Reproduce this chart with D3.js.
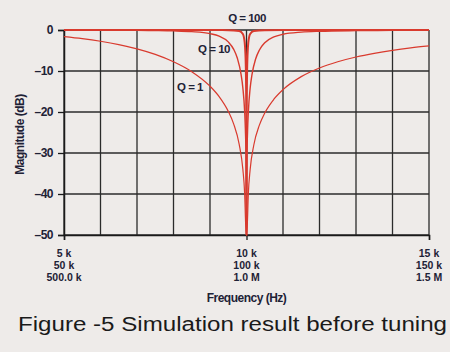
<!DOCTYPE html>
<html>
<head>
<meta charset="utf-8">
<script src="https://cdn.jsdelivr.net/npm/d3@7"></script>
<style>
  html, body { margin: 0; padding: 0; background: #eeebe9; }
  svg { display: block; }
  .lbl { font-family: "Liberation Sans", Arial, sans-serif; font-weight: bold; fill: #1e2236; }
</style>
</head>
<body>
<div id="chart"></div>
<script>
// frequency in kHz (first row of x labels), magnitude in dB
const xTickValues = [5, 10, 15];
const xTickLines = [
  ["5 k", "50 k", "500.0 k"],
  ["10 k", "100 k", "1.0 M"],
  ["15 k", "150 k", "1.5 M"]
];
const yTickValues = [0, -10, -20, -30, -40, -50];

const q1Freq = [5, 5.5, 6, 6.5, 7, 7.5, 8, 8.5, 9, 9.25, 9.5, 9.65, 9.8, 9.9, 9.95, 9.98, 10,
  10.02, 10.05, 10.1, 10.2, 10.35, 10.5, 10.75, 11, 11.5, 12, 12.5, 13, 13.5, 14, 14.5, 15];
const q1Db = [-1.6, -2.1, -2.74, -3.55, -4.6, -5.95, -7.74, -10.16, -13.7, -16.24, -19.82, -22.96, -27.88, -33.94, -39.98, -47.95, -50,
  -47.97, -40.02, -34.02, -28.05, -23.27, -20.25, -16.88, -14.54, -11.37, -9.26, -7.74, -6.58, -5.68, -4.95, -4.36, -3.88];

const q10Freq = [5, 6, 7, 7.5, 8, 8.5, 9, 9.25, 9.5, 9.65, 9.75, 9.85, 9.9, 9.95, 9.97, 9.985, 10,
  10.015, 10.03, 10.05, 10.1, 10.15, 10.25, 10.35, 10.5, 10.75, 11, 11.5, 12, 13, 14, 15];
const q10Db = [-0.02, -0.04, -0.08, -0.13, -0.21, -0.39, -0.88, -1.49, -2.9, -4.72, -6.9, -10.78, -14.1, -20, -24.44, -30.45, -50,
  -30.47, -24.46, -20.06, -14.19, -10.89, -7.08, -4.93, -3.12, -1.7, -1.05, -0.52, -0.31, -0.15, -0.09, -0.06];

const q100Freq = [5, 7, 9, 9.5, 9.8, 9.9, 9.95, 9.97, 9.985, 9.995, 9.9985, 10,
  10.0015, 10.005, 10.015, 10.03, 10.05, 10.1, 10.2, 10.5, 11, 13, 15];
const q100Db = [0, 0, -0.01, -0.04, -0.26, -0.96, -3, -5.76, -10.83, -20.04, -30.46, -50,
  -30.46, -20.04, -10.84, -5.78, -3.02, -0.98, -0.26, -0.05, -0.01, 0, 0];

const seriesNames = ["Q = 1", "Q = 10", "Q = 100"];

const W = 450, H = 352;
const margin = {top: 30, right: 21, bottom: 117, left: 64};
const width = W - margin.left - margin.right;
const height = H - margin.top - margin.bottom;

const svg = d3.select("#chart").append("svg")
    .attr("width", W)
    .attr("height", H);
const g = svg.append("g")
    .attr("transform", "translate(" + margin.left + "," + margin.top + ")");

const x = d3.scaleLinear().domain([5, 15]).range([0, width]);
const y = d3.scaleLinear().domain([-50, 0]).range([height, 0]);

// grid
g.append("g").selectAll("line")
    .data(d3.range(5, 16, 1))
  .enter().append("line")
    .attr("x1", d => x(d)).attr("x2", d => x(d))
    .attr("y1", 0).attr("y2", height)
    .attr("stroke", "#2b2b2b").attr("stroke-width", 1.3);
g.append("g").selectAll("line")
    .data(yTickValues)
  .enter().append("line")
    .attr("x1", 0).attr("x2", width)
    .attr("y1", d => y(d)).attr("y2", d => y(d))
    .attr("stroke", "#2b2b2b").attr("stroke-width", 1.3);

// y axis
const yAxis = d3.axisLeft(y).tickValues(yTickValues).tickSize(6).tickPadding(5)
    .tickFormat(d => d === 0 ? "0" : "\u2013" + Math.abs(d));
const yg = g.append("g").call(yAxis);
yg.select(".domain").attr("stroke", "#1a1a1a").attr("stroke-width", 1.5);
yg.selectAll(".tick line").attr("stroke", "#1a1a1a").attr("stroke-width", 1.3);
yg.selectAll(".tick text").attr("class", "lbl")
    .style("font-size", "12px").style("letter-spacing", "-0.5px");

// x axis
const xAxis = d3.axisBottom(x).tickValues(xTickValues).tickSize(5).tickFormat("");
const xg = g.append("g").attr("transform", "translate(0," + height + ")").call(xAxis);
xg.select(".domain").attr("stroke", "#1a1a1a").attr("stroke-width", 1.5);
xg.selectAll(".tick line").attr("stroke", "#1a1a1a").attr("stroke-width", 1.3);
xTickValues.forEach(function(v, i) {
  const t = g.append("text").attr("class", "lbl")
      .attr("text-anchor", "middle")
      .style("font-size", "10.5px")
      .attr("transform", "translate(" + x(v) + "," + (height + 22) + ")");
  xTickLines[i].forEach(function(s, j) {
    t.append("tspan").attr("x", 0).attr("y", j * 11.8).text(s);
  });
});

// curves
const line = d3.line()
    .x(d => x(d.f))
    .y(d => y(d.db))
    .curve(d3.curveMonotoneX);
function pairs(fr, db) { return fr.map((f, i) => ({f: f, db: db[i]})); }
const series = [
  {name: seriesNames[0], data: pairs(q1Freq, q1Db), w: 1.2},
  {name: seriesNames[1], data: pairs(q10Freq, q10Db), w: 1.4},
  {name: seriesNames[2], data: pairs(q100Freq, q100Db), w: 2}
];
g.append("g").selectAll("path")
    .data(series)
  .enter().append("path")
    .attr("d", d => line(d.data))
    .attr("fill", "none")
    .attr("stroke", "#d93a2e")
    .attr("stroke-width", d => d.w)
    .attr("stroke-linejoin", "round");

// series labels
const labelPos = [[190, 91], [214, 53], [247, 22]];
seriesNames.forEach(function(s, i) {
  svg.append("text").attr("class", "lbl")
      .attr("x", labelPos[i][0]).attr("y", labelPos[i][1])
      .attr("text-anchor", "middle")
      .style("font-size", "11.5px")
      .style("letter-spacing", "-0.5px")
      .text(s);
});

// axis titles
svg.append("text").attr("class", "lbl")
    .attr("transform", "translate(24," + (margin.top + height / 2 + 2) + ") rotate(-90)")
    .attr("text-anchor", "middle")
    .style("font-size", "12px")
    .style("letter-spacing", "-0.5px")
    .text("Magnitude (dB)");
svg.append("text").attr("class", "lbl")
    .attr("x", margin.left + width / 2).attr("y", 302)
    .attr("text-anchor", "middle")
    .style("font-size", "12px")
    .style("letter-spacing", "-0.5px")
    .text("Frequency (Hz)");

// caption
svg.append("text")
    .attr("x", 18).attr("y", 331)
    .attr("textLength", 429)
    .attr("lengthAdjust", "spacingAndGlyphs")
    .style("font-family", "'Liberation Sans', Arial, sans-serif")
    .style("font-size", "20px")
    .style("fill", "#1a1a1a")
    .text("Figure -5 Simulation result before tuning");
</script>
</body>
</html>
